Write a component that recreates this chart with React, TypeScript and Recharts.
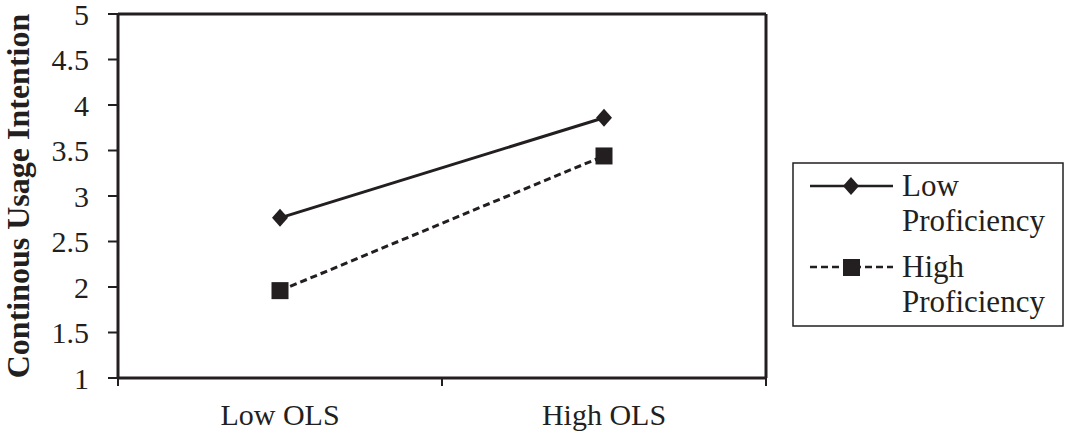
import React from 'react';
import { LineChart, Line, XAxis, YAxis, ReferenceLine } from 'recharts';

const categories = ['Low OLS', 'High OLS'];
const lowProficiency = [2.76, 3.86];
const highProficiency = [1.96, 3.44];
const yTicks = [1, 1.5, 2, 2.5, 3, 3.5, 4, 4.5, 5];
const seriesNames = ['Low Proficiency', 'High Proficiency'];

const data = categories.map((c, i) => ({
  pos: i + 0.5,
  name: c,
  low: lowProficiency[i],
  high: highProficiency[i],
}));

const INK = '#231f20';
const FONT = '"Liberation Serif", "Times New Roman", serif';

const Diamond = (props: any) => {
  const { cx, cy } = props;
  if (cx == null || cy == null) return null;
  return <polygon points={`${cx},${cy - 9} ${cx + 8},${cy} ${cx},${cy + 9} ${cx - 8},${cy}`} fill={INK} />;
};

const Square = (props: any) => {
  const { cx, cy } = props;
  if (cx == null || cy == null) return null;
  return <rect x={cx - 8.5} y={cy - 8.5} width={17} height={17} fill={INK} />;
};

const XTick = (props: any) => {
  const { x, y, payload } = props;
  const v = payload.value as number;
  if (Math.abs(v - Math.round(v)) < 1e-6) {
    return <line x1={x} y1={y} x2={x} y2={y + 8} stroke={INK} strokeWidth={2} />;
  }
  const label = categories[Math.floor(v)];
  return (
    <text x={x} y={y + 47} textAnchor="middle" fontFamily={FONT} fontSize={30} fill={INK}>
      {label}
    </text>
  );
};

const [lowName1, lowName2] = ['Low', 'Proficiency'];
const [highName1, highName2] = ['High', 'Proficiency'];

const LegendBox = () => (
  <svg width={272} height={165} style={{ display: 'block' }}>
    <rect x={1} y={1} width={270} height={163} fill="#fff" stroke={INK} strokeWidth={1.5} />
    <line x1={18} y1={24} x2={101} y2={24} stroke={INK} strokeWidth={2.5} />
    <polygon points="59,15 67,24 59,33 51,24" fill={INK} />
    <text x={110} y={34} fontFamily={FONT} fontSize={31} fill={INK}>{lowName1}</text>
    <text x={110} y={69} fontFamily={FONT} fontSize={31} fill={INK}>{lowName2}</text>
    <line x1={18} y1={105} x2={101} y2={105} stroke={INK} strokeWidth={2.5} strokeDasharray="7 4" />
    <rect x={51} y={97} width={17} height={17} fill={INK} />
    <text x={110} y={115} fontFamily={FONT} fontSize={31} fill={INK}>{highName1}</text>
    <text x={110} y={150} fontFamily={FONT} fontSize={31} fill={INK}>{highName2}</text>
  </svg>
);

const YLabel = () => (
  <text
    x={0}
    y={0}
    transform="translate(29,196) rotate(-90)"
    textAnchor="middle"
    fontFamily={FONT}
    fontWeight="bold"
    fontSize={32}
    fill={INK}
  >
    Continous Usage Intention
  </text>
);

export default function App() {
  return (
    <div style={{ position: 'absolute', left: 0, top: 0, width: 1068, height: 431, background: '#fff' }}>
      <LineChart
        width={1068}
        height={431}
        data={data}
        margin={{ top: 14, right: 302, bottom: 0, left: 0 }}
      >
        <XAxis
          dataKey="pos"
          type="number"
          domain={[0, 2]}
          ticks={[0, 0.5, 1, 1.5, 2]}
          height={53}
          axisLine={{ stroke: INK, strokeWidth: 3 }}
          tickLine={false}
          tickSize={0}
          tickMargin={0}
          tick={<XTick />}
          interval={0}
        />
        <YAxis
          type="number"
          domain={[1, 5]}
          ticks={yTicks}
          width={118}
          axisLine={{ stroke: INK, strokeWidth: 3 }}
          tickLine={{ stroke: INK, strokeWidth: 2 }}
          tickSize={10}
          tickMargin={19}
          tick={{ fontFamily: FONT, fontSize: 30, fill: INK }}
          interval={0}
          label={<YLabel />}
        />
        <ReferenceLine y={5} stroke={INK} strokeWidth={3} ifOverflow="visible" />
        <ReferenceLine x={2} stroke={INK} strokeWidth={3} ifOverflow="visible" />
        <Line
          dataKey="low"
          name={seriesNames[0]}
          stroke={INK}
          strokeWidth={3}
          dot={<Diamond />}
          activeDot={false}
          isAnimationActive={false}
        />
        <Line
          dataKey="high"
          name={seriesNames[1]}
          stroke={INK}
          strokeWidth={3}
          strokeDasharray="7 4"
          dot={<Square />}
          activeDot={false}
          isAnimationActive={false}
        />
      </LineChart>
      <div style={{ position: 'absolute', left: 792, top: 162 }}>
        <LegendBox />
      </div>
    </div>
  );
}
